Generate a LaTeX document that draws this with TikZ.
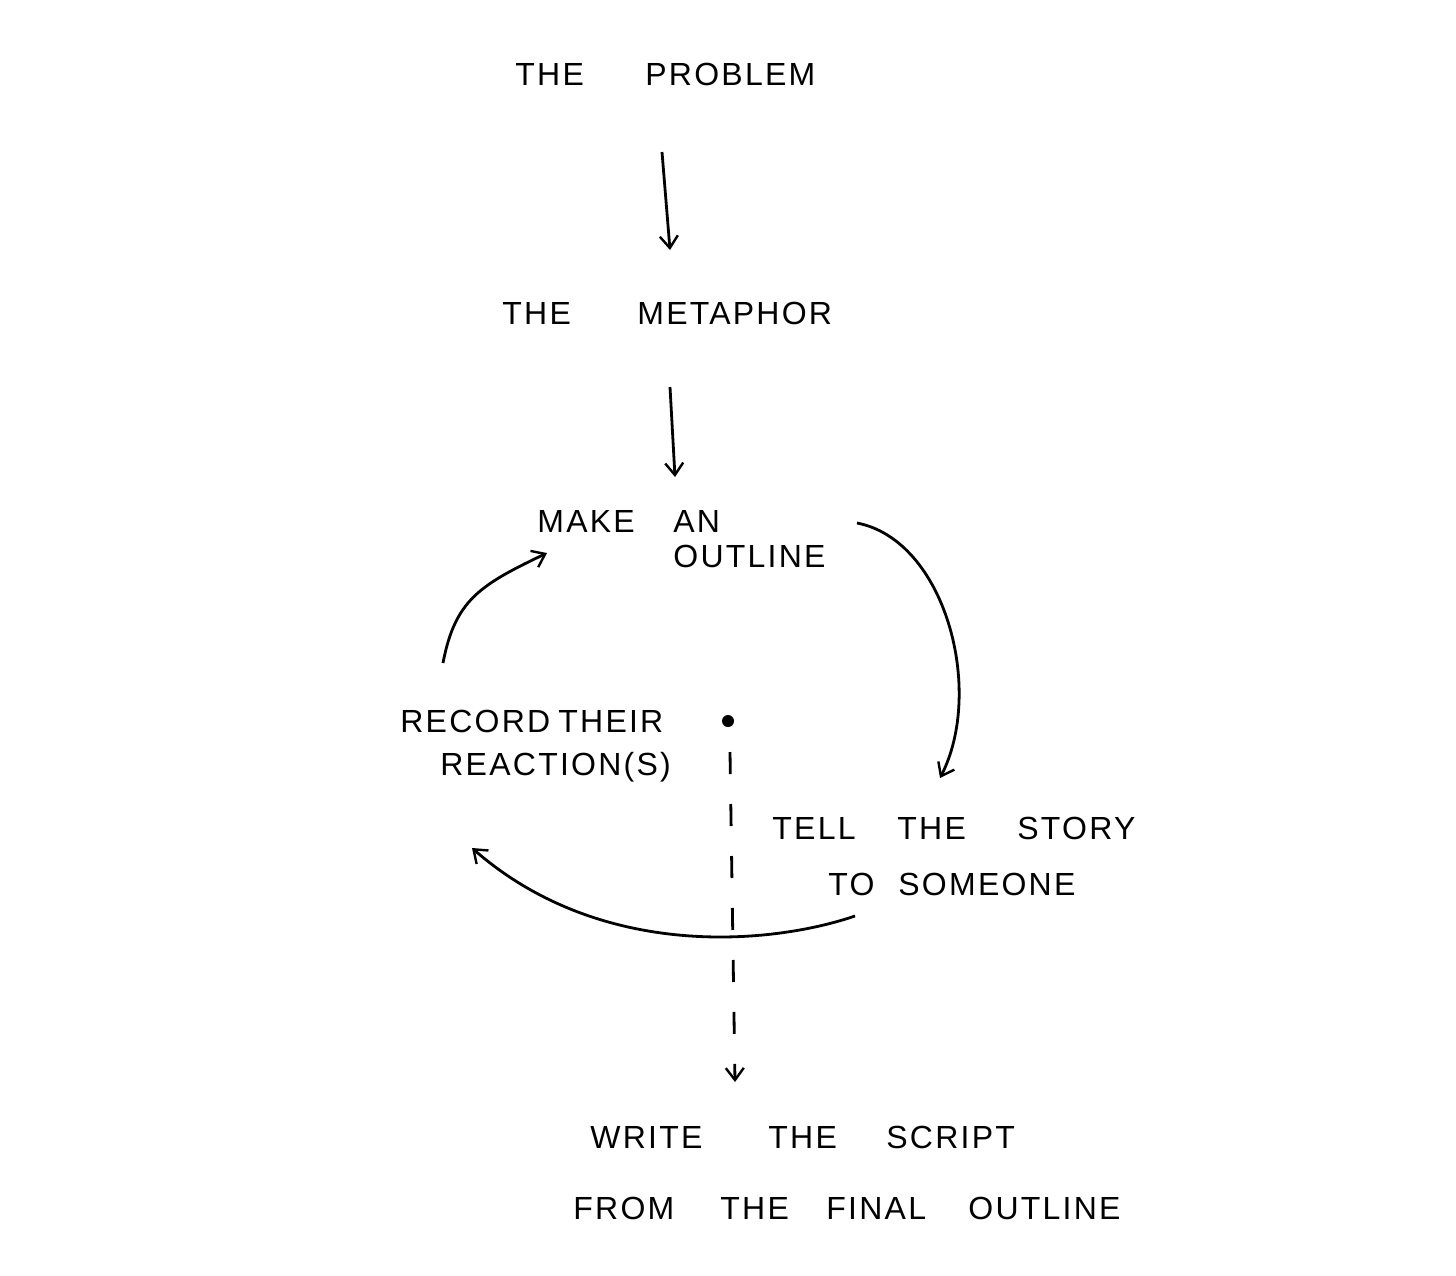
\documentclass[tikz,border=0pt]{standalone}
\usepackage{fontspec}
\setmainfont{Liberation Sans}
\newfontfamily\handfont[LetterSpace=7]{Liberation Sans}
\usetikzlibrary{arrows.meta}
\newcommand{\wbox}[2]{\makebox[#1pt][l]{#2}}
\tikzset{
  lbl/.style={anchor=base west, inner sep=0pt, font=\handfont\fontsize{16}{18}\selectfont},
  conn/.style={line width=1.4pt, -{Straight Barb[length=6pt,width=9pt,line width=1.2pt]}},
}
\begin{document}
\begin{tikzpicture}[x=0.5pt,y=-0.5pt]
\useasboundingbox (0,0) rectangle (1456,1275);
\node[lbl] (prob) at (515,85) {\wbox{65}{THE}PROBLEM};
\node[lbl] (meta) at (502,324) {\wbox{67.5}{THE}METAPHOR};
\node[lbl] (make) at (537,532) {\wbox{68}{MAKE}AN};
\node[lbl] (outl) at (673,567) {OUTLINE};
\node[lbl] (rec1) at (400,732) {\wbox{79}{RECORD}THEIR};
\node[lbl] (rec2) at (440,775) {REACTION(S)};
\node[lbl] (tell1) at (772,839) {\wbox{62.5}{TELL}\wbox{60}{THE}STORY};
\node[lbl] (tell2) at (828,895) {\wbox{35}{TO}SOMEONE};
\node[lbl] (wr1) at (590,1148) {\wbox{89}{WRITE}\wbox{59}{THE}SCRIPT};
\node[lbl] (wr2) at (573,1219) {\wbox{73.5}{FROM}\wbox{53}{THE}\wbox{71}{FINAL}OUTLINE};
\coordinate (a1s) at (662,152);
\coordinate (a1e) at (670,250);
\coordinate (a2s) at (670,387);
\coordinate (a2e) at (675,477);
\coordinate (bs) at (857,523);
\coordinate (be) at (940,778);
\coordinate (cs) at (443,663);
\coordinate (ce) at (547,553);
\coordinate (ds) at (855,916);
\coordinate (de) at (472,848);
\coordinate (dot) at (728,721);
\coordinate (es) at (730,752);
\coordinate (ee) at (735,1082);
\draw[conn] (a1s) -- (a1e);
\draw[conn] (a2s) -- (a2e);
\draw[conn] (bs) .. controls (945,540) and (985,690) .. (be);
\draw[conn] (cs) .. controls (455,600) and (480,585) .. (ce);
\draw[conn] (ds) .. controls (770,945) and (600,960) .. (de);
\fill (dot) circle[radius=6];
\draw[conn, dash pattern=on 11pt off 15pt] (es) -- (ee);
\end{tikzpicture}
\end{document}
